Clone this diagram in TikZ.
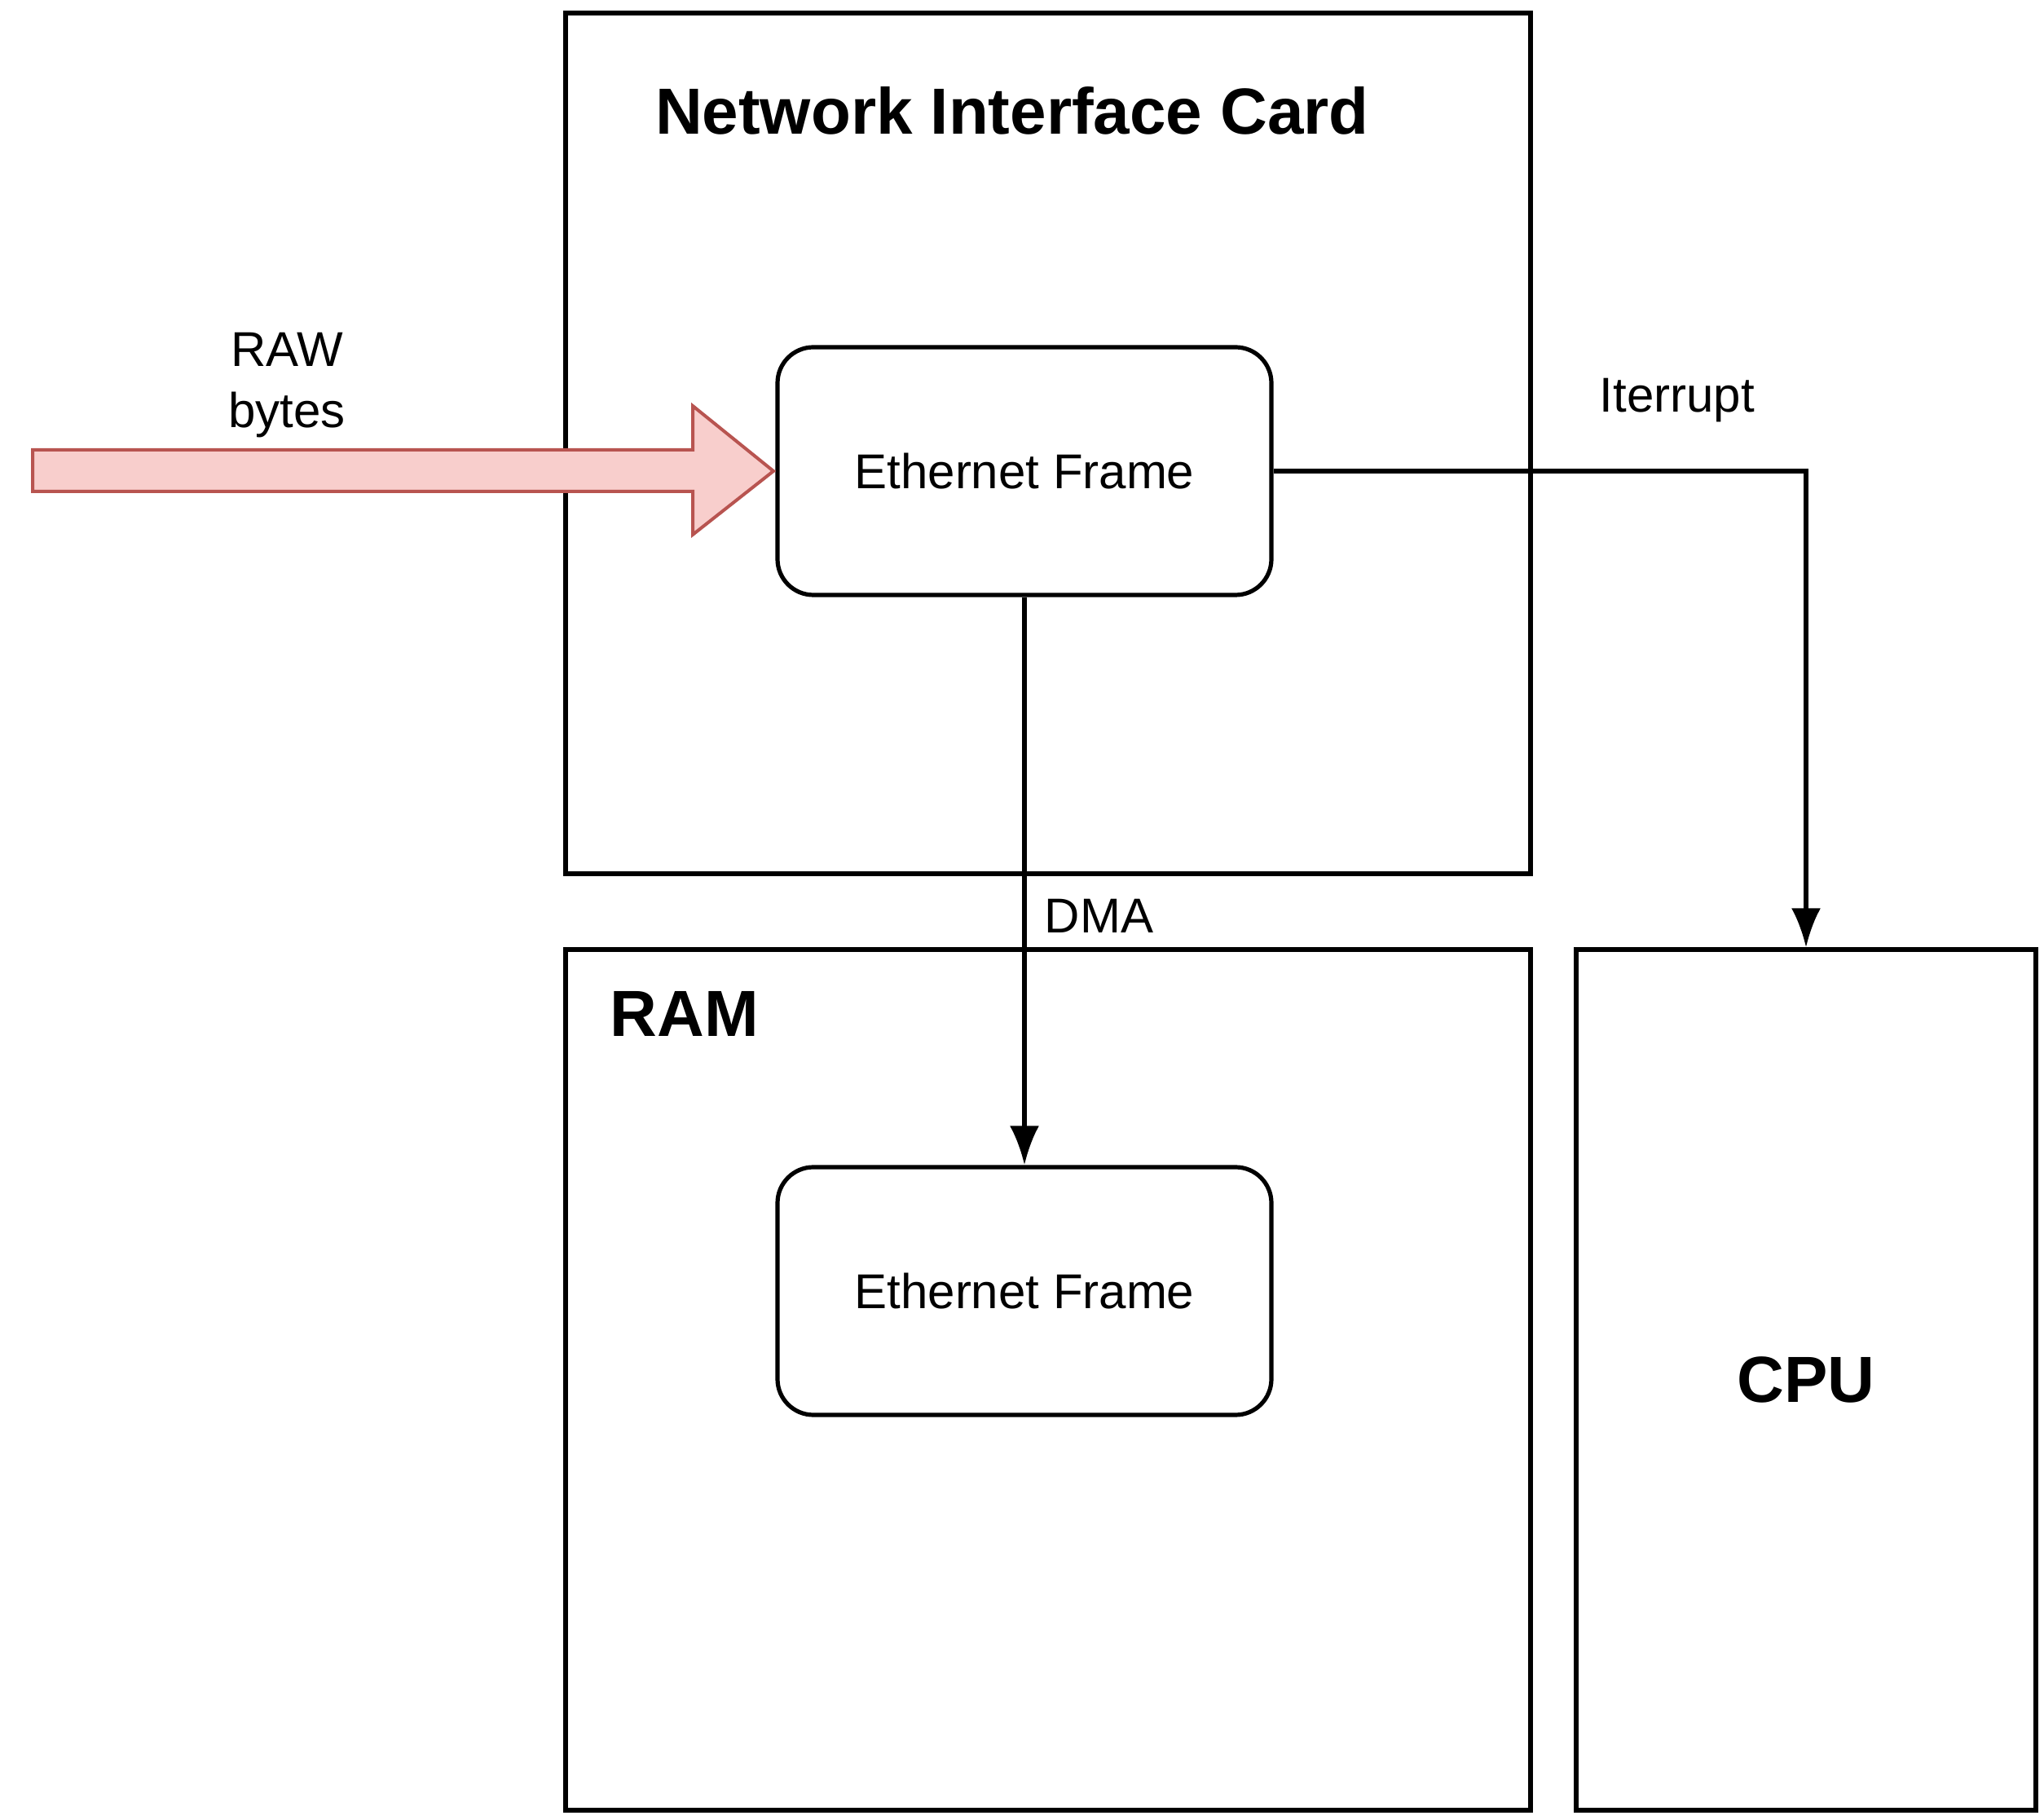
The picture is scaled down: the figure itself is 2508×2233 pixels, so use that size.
\documentclass[tikz,border=0pt]{standalone}
\usepackage{fontspec}
\setmainfont{Liberation Sans}
\usetikzlibrary{arrows.meta}
\begin{document}
\begin{tikzpicture}[x=0.25pt,y=-0.25pt,
  box/.style={draw=black, line width=1.3pt, rectangle, minimum height=264pt, inner sep=0pt},
  framebox/.style={draw=black, line width=1.3pt, rectangle, rounded corners=11pt,
    minimum width=151.5pt, minimum height=76pt, inner sep=0pt, font=\fontsize{15}{18}\selectfont},
  title/.style={font=\fontsize{20}{24}\selectfont\bfseries, inner sep=0pt},
  lbl/.style={font=\fontsize{15}{18.75}\selectfont, inner sep=0pt},
  arr/.style={draw=black, line width=1.3pt, -{Latex[length=12pt,width=9pt]}}]
  \useasboundingbox (0,0) rectangle (2508,2233);

  % containers
  \node[box, minimum width=296pt] (nic) at (1286,544) {};
  \node[box, minimum width=296pt] (ram) at (1286,1693) {};
  \node[box, minimum width=141pt, title] (cpu) at (2216,1693) {CPU};

  \node[title, anchor=base] (nictitle) at (1242,165) {Network Interface Card};
  \node[title, anchor=base] (ramtitle) at (840,1272) {RAM};

  % frames
  \node[framebox] (f1) at (1257,578) {Ethernet Frame};
  \node[framebox] (f2) at (1257,1584) {Ethernet Frame};

  % incoming raw bytes
  \draw[draw={rgb,255:red,184;green,84;blue,80}, fill={rgb,255:red,248;green,206;blue,204}, line width=1pt, line join=miter]
    (40,552) -- (850,552) -- (850,498) -- (949,578) -- (850,656) -- (850,603) -- (40,603) -- cycle;
  \node[lbl, anchor=base, align=center] (raw) at (352,525) {RAW\\bytes};

  % connectors
  \draw[arr] (f1.south) -- (f2.north);
  \draw[arr] (f1.east) -| (cpu.north);
  \node[lbl, anchor=base west] (dma) at (1281,1145) {DMA};
  \node[lbl, anchor=base west] (irq) at (1962,506) {Iterrupt};
\end{tikzpicture}
\end{document}
